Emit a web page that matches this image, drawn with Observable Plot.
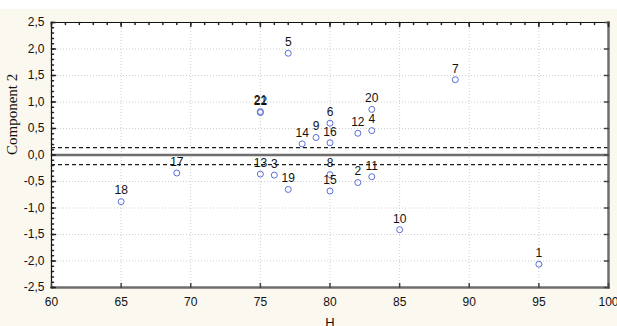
<!DOCTYPE html>
<html>
<head>
<meta charset="utf-8">
<script src="https://cdn.jsdelivr.net/npm/d3@7"></script>
<script src="https://cdn.jsdelivr.net/npm/@observablehq/plot@0.6"></script>
<style>
  html, body { margin: 0; padding: 0; background: #ffffff; overflow: hidden; }
</style>
</head>
<body>
<div id="chart"></div>
<script>
// Point labels, H (x) and Component 2 (y) values
const ids = ["1","2","3","4","5","6","7","8","9","10","11","12","13","14","15","16","17","18","19","20","21","22"];
const hValues = [95, 82, 76, 83, 77, 80, 89, 80, 79, 85, 83, 82, 75, 78, 80, 80, 69, 65, 77, 83, 75, 75];
const comp2Values = [-2.06, -0.52, -0.38, 0.46, 1.92, 0.60, 1.42, -0.37, 0.33, -1.41, -0.41, 0.41, -0.36, 0.21, -0.68, 0.23, -0.34, -0.88, -0.65, 0.86, 0.82, 0.80];
// Reference lines
const zeroLine = [0];
const dashedLines = [0.14, -0.18];
// Axis ticks
const xTicks = [60, 65, 70, 75, 80, 85, 90, 95, 100];
const yTicks = [-2.5, -2.0, -1.5, -1.0, -0.5, 0.0, 0.5, 1.0, 1.5, 2.0, 2.5];
const xLabel = "H";
const yLabel = "Component 2";

const data = ids.map((id, i) => ({id, h: hValues[i], c: comp2Values[i]}));
const xMinor = d3.range(60, 101, 1);
const yMinor = d3.range(-25, 26, 1).map(v => v / 10);

const tickShape = {draw(context, l) { context.moveTo(0, 0); context.lineTo(0, -l); }};
const sans = "'Liberation Sans', Arial, sans-serif";

const chart = Plot.plot({
  width: 617,
  height: 326,
  marginTop: 22,
  marginRight: 9,
  marginBottom: 39,
  marginLeft: 51,
  style: {
    background: "linear-gradient(#ffffff 0px, #ffffff 9px, #fbf8ef 9px)",
    fontFamily: sans,
    fontSize: "12px",
    color: "#111"
  },
  x: {domain: [60, 100]},
  y: {domain: [-2.5, 2.5]},
  marks: [
    Plot.frame({fill: "#ffffff", stroke: "none"}),
    Plot.gridX(xTicks, {stroke: "#cfcfcf", strokeOpacity: 1, strokeDasharray: "1,2"}),
    Plot.gridY(yTicks, {stroke: "#cfcfcf", strokeOpacity: 1, strokeDasharray: "1,2"}),
    Plot.ruleY(zeroLine, {stroke: "#6e6e6e", strokeWidth: 2.5}),
    Plot.ruleY(dashedLines, {stroke: "#1e1e1e", strokeWidth: 1.3, strokeDasharray: "4,3"}),
    // frame sides
    Plot.frame({anchor: "left", stroke: "#111", strokeWidth: 1.2}),
    Plot.frame({anchor: "top", stroke: "#111", strokeWidth: 1.2}),
    Plot.frame({anchor: "bottom", stroke: "#6e6e6e", strokeWidth: 2.5}),
    Plot.frame({anchor: "right", stroke: "#6e6e6e", strokeWidth: 2.5}),
    // inward ticks
    Plot.vector(xMinor, {x: d => d, frameAnchor: "top", rotate: 180, length: 2, anchor: "start", shape: tickShape, stroke: "#222"}),
    Plot.vector(xTicks, {x: d => d, frameAnchor: "top", rotate: 180, length: 4, anchor: "start", shape: tickShape, stroke: "#222"}),
    Plot.vector(xTicks, {x: d => d, frameAnchor: "bottom", rotate: 0, length: 4, anchor: "start", shape: tickShape, stroke: "#444"}),
    Plot.vector(yMinor, {y: d => d, frameAnchor: "left", rotate: 90, length: 2, anchor: "start", shape: tickShape, stroke: "#222"}),
    Plot.vector(yTicks, {y: d => d, frameAnchor: "left", rotate: 90, length: 4, anchor: "start", shape: tickShape, stroke: "#222"}),
    Plot.vector(yTicks, {y: d => d, frameAnchor: "right", rotate: -90, length: 4, anchor: "start", shape: tickShape, stroke: "#444"}),
    // tick labels
    Plot.axisX({ticks: xTicks, tickSize: 0, tickPadding: 10, tickFormat: d => String(d), label: null, fontSize: 12}),
    Plot.axisY({ticks: yTicks, tickSize: 0, tickPadding: 7, tickFormat: d => d.toFixed(1).replace(".", ","), label: null, fontSize: 12}),
    // axis titles
    Plot.text([xLabel], {frameAnchor: "bottom", dy: 39, fontSize: 13, fill: "#111"}),
    Plot.text([yLabel], {frameAnchor: "left", dx: -39, rotate: -90, fontSize: 15, fontFamily: "'Liberation Serif', 'Times New Roman', serif", fill: "#111"}),
    // points and labels
    Plot.dot(data, {x: "h", y: "c", r: 3, stroke: "#5a6fd8", strokeWidth: 1, fill: "none"}),
    Plot.text(data, {x: "h", y: "c", text: "id", dy: -11, fontSize: 12, fill: "#111"})
  ]
});
document.getElementById("chart").appendChild(chart);
</script>
</body>
</html>
